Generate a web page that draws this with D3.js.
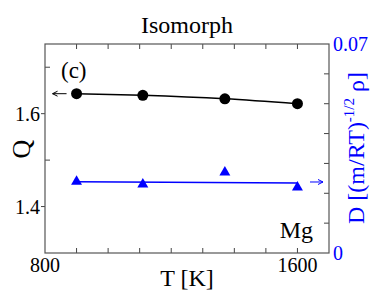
<!DOCTYPE html>
<html>
<head>
<meta charset="utf-8">
<script src="https://cdn.jsdelivr.net/npm/d3@7"></script>
</head>
<body style="margin:0">
<div id="chart"></div>
<script>
// temperatures [K]
let temps = [900, 1110, 1370, 1600];
// Q along the isomorph (left axis)
let qValues = [1.643, 1.6395, 1.632, 1.6215];
// reduced diffusion coefficient (right axis)
let dValues = [0.0239, 0.0230, 0.0270, 0.0220];
// linear fit of D, read at the ends
let dFitT = [900, 1600];
let dFitValues = [0.0239, 0.02345];

let xTicks = [800, 1600];
let xMinor = [900, 1000, 1100, 1200, 1300, 1400, 1500, 1600];
let qTicks = [1.4, 1.6];
let qMinor = [1.5, 1.7];
let dTicks = [0, 0.07];
let dMinor = [0.01, 0.02, 0.03, 0.04, 0.05, 0.06];

let width = 374;
let height = 299;
let margin = {left: 45, right: 45, top: 44, bottom: 46};
let blue = "#0000ff";

let svg = d3.select("#chart").append("svg").attr("width", width).attr("height", height);

let x = d3.scaleLinear().domain([800, 1700]).range([margin.left, width - margin.right]);
let yQ = d3.scaleLinear().domain([1.3, 1.75]).range([height - margin.bottom, margin.top]);
let yD = d3.scaleLinear().domain([0, 0.07]).range([height - margin.bottom, margin.top]);

let x0 = margin.left, x1 = width - margin.right;
let y0 = height - margin.bottom, y1 = margin.top;

// every text goes through here so it gets the serif face
function label(sel, size) {
	return sel.append("text")
		.style("font-family", "'Liberation Serif'")
		.attr("font-size", size);
}

// ticks (inside the frame)
let tickLen = 5;
let tickG = svg.append("g").attr("stroke", "#444").attr("stroke-width", 1);
xMinor.forEach(t => {
	tickG.append("line").attr("x1", x(t)).attr("x2", x(t)).attr("y1", y0).attr("y2", y0 - tickLen);
	tickG.append("line").attr("x1", x(t)).attr("x2", x(t)).attr("y1", y1).attr("y2", y1 + tickLen);
});
qMinor.forEach(t => {
	tickG.append("line").attr("x1", x0).attr("x2", x0 + tickLen).attr("y1", yQ(t)).attr("y2", yQ(t));
});
qTicks.forEach(t => {
	tickG.append("line").attr("x1", x0 - 4).attr("x2", x0).attr("y1", yQ(t)).attr("y2", yQ(t));
});
dMinor.forEach(t => {
	tickG.append("line").attr("x1", x1).attr("x2", x1 - tickLen).attr("y1", yD(t)).attr("y2", yD(t));
});

// frame
svg.append("rect")
	.attr("x", x0).attr("y", y1)
	.attr("width", x1 - x0).attr("height", y0 - y1)
	.attr("fill", "none").attr("stroke", "#555").attr("stroke-width", 1.2);

// tick labels
xTicks.forEach(d => {
	label(svg, 20).attr("x", x(d)).attr("y", 272).attr("text-anchor", "middle").text(d);
});
qTicks.forEach(d => {
	label(svg, 20).attr("x", 40).attr("y", yQ(d) + 7).attr("text-anchor", "end").text(d3.format(".1f")(d));
});
dTicks.forEach(d => {
	label(svg, 20).attr("x", 333).attr("y", yD(d) + 7).attr("fill", blue)
		.text(d === 0 ? "0" : d3.format(".2f")(d));
});

// axis titles
label(svg, 24).attr("x", 187).attr("y", 33).attr("text-anchor", "middle").text("Isomorph");
label(svg, 24).attr("x", 187).attr("y", 286).attr("text-anchor", "middle").text("T [K]");
label(svg, 26).attr("transform", "translate(30,149) rotate(-90)").attr("text-anchor", "middle").text("Q");
let dLabel = label(svg, 24).attr("transform", "translate(364,148) rotate(-90)")
	.attr("text-anchor", "middle").attr("fill", blue);
dLabel.append("tspan").text("D [(m/RT)");
dLabel.append("tspan").attr("font-size", 15).attr("dy", -10).text("-1/2");
dLabel.append("tspan").attr("dy", 10).text(" \u03c1]");

// panel labels
label(svg, 23).attr("x", 61).attr("y", 78).text("(c)");
label(svg, 24).attr("x", 313).attr("y", 238).attr("text-anchor", "end").text("Mg");

// Q series
let qLine = d3.line().x((d, i) => x(temps[i])).y(d => yQ(d)).curve(d3.curveMonotoneX);
svg.append("path").attr("d", qLine(qValues))
	.attr("fill", "none").attr("stroke", "#000").attr("stroke-width", 1.5);
svg.append("g").selectAll("circle").data(qValues).join("circle")
	.attr("cx", (d, i) => x(temps[i])).attr("cy", d => yQ(d)).attr("r", 5.5)
	.attr("fill", "#000");

// D series
let dLine = d3.line().x((d, i) => x(dFitT[i])).y(d => yD(d));
svg.append("path").attr("d", dLine(dFitValues))
	.attr("fill", "none").attr("stroke", blue).attr("stroke-width", 1.5);
let tri = d3.symbol().type(d3.symbolTriangle).size(52);
svg.append("g").selectAll("path").data(dValues).join("path")
	.attr("d", tri)
	.attr("transform", (d, i) => "translate(" + x(temps[i]) + "," + yD(d) + ")")
	.attr("fill", blue);

// arrows pointing to the axes
function arrow(xa, xb, y, color) {
	let dir = xb > xa ? 1 : -1;
	svg.append("line").attr("x1", xa).attr("x2", xb).attr("y1", y).attr("y2", y)
		.attr("stroke", color).attr("stroke-width", 1);
	svg.append("path")
		.attr("d", "M" + (xb - dir * 5) + "," + (y - 2.5) + "L" + xb + "," + y + "L" + (xb - dir * 5) + "," + (y + 2.5))
		.attr("fill", "none").attr("stroke", color).attr("stroke-width", 1);
}
arrow(x(temps[0]) - 10, x(temps[0]) - 24, yQ(qValues[0]), "#000");
arrow(310, 323, yD(dFitValues[1]) - 1, blue);
</script>
</body>
</html>
